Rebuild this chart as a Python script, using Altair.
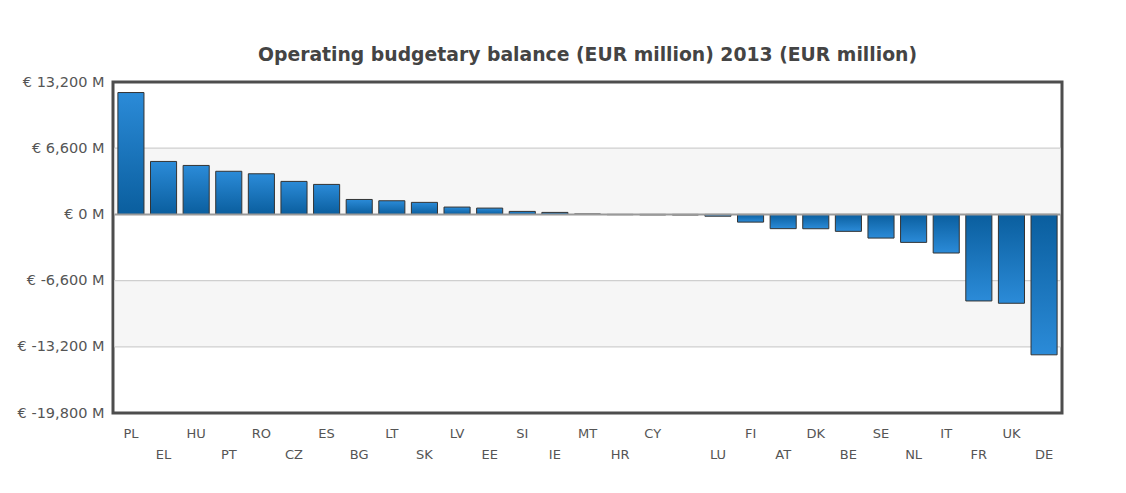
import json
import altair as alt
import pandas as pd

title = "Operating budgetary balance (EUR million) 2013 (EUR million)"

countries = ["PL", "EL", "HU", "PT", "RO", "CZ", "ES", "BG", "LT", "SK",
             "LV", "EE", "SI", "IE", "MT", "HR", "CY", " ", "LU", "FI",
             "AT", "DK", "BE", "SE", "NL", "IT", "FR", "UK", "DE"]
values = [12150, 5280, 4880, 4300, 4050, 3290, 2990, 1490, 1360, 1200,
          730, 630, 300, 200, 40, -30, -50, -60, -180, -770,
          -1420, -1430, -1690, -2360, -2790, -3850, -8630, -8860, -14000]

y_ticks = [-19800, -13200, -6600, 0, 6600, 13200]
band_lo = [0, -13200]
band_hi = [6600, -6600]
grid_vals = [6600, -6600, -13200]

W, H = 949, 331
INSET = 1.5

df = pd.DataFrame({"country": countries, "value": values})
bands = pd.DataFrame({"lo": band_lo, "hi": band_hi})
grid = pd.DataFrame({"v": grid_vals})
zero = pd.DataFrame({"v": [0]})

# staggered labels: alternate rows among non-empty labels
bottom = []
rank = 0
for c in countries:
    if c.strip():
        if rank % 2 == 1:
            bottom.append(c)
        rank += 1
label_expr = ("indexof(" + json.dumps(bottom).replace('"', "'") +
              ", datum.value) >= 0 ? ['', datum.value] : datum.value")

FONT = "DejaVu Sans"
LABEL_COLOR = "#555555"

yscale = alt.Scale(domain=[-19800, 13200], nice=False, zero=False)
xscale = alt.Scale(paddingInner=0.2, paddingOuter=0.15)

x_enc = alt.X("country:N", sort=countries, scale=xscale, title=None,
              axis=alt.Axis(labelAngle=0, labelExpr=label_expr, ticks=False,
                            domain=False, labelPadding=14, labelLineHeight=21,
                            labelFont=FONT, labelFontSize=13, labelColor=LABEL_COLOR,
                            labelBaseline="top"))
y_axis = alt.Axis(values=y_ticks, grid=False, ticks=False, domain=False,
                  labelPadding=9, labelFont=FONT, labelFontSize=14.5,
                  labelColor=LABEL_COLOR,
                  labelExpr="'€ ' + (datum.value < 0 ? '-' : '') + format(abs(datum.value), ',') + ' M'")

band_layer = alt.Chart(bands).mark_rect(color="#f6f6f6").encode(
    y=alt.Y("lo:Q", scale=yscale, axis=y_axis, title=None),
    y2="hi:Q",
    x=alt.value(INSET), x2=alt.value(W - INSET),
)

grid_layer = alt.Chart(grid).mark_rule(color="#cfcfcf", strokeWidth=1.2).encode(
    y=alt.Y("v:Q", scale=yscale),
    x=alt.value(INSET), x2=alt.value(W - INSET),
)

pos_grad = alt.LinearGradient(
    gradient="linear", x1=0, x2=0, y1=0, y2=1,
    stops=[alt.GradientStop(color="#2b8bd8", offset=0),
           alt.GradientStop(color="#0a5e9e", offset=1)])
neg_grad = alt.LinearGradient(
    gradient="linear", x1=0, x2=0, y1=0, y2=1,
    stops=[alt.GradientStop(color="#0a5e9e", offset=0),
           alt.GradientStop(color="#2b8bd8", offset=1)])

pos_bars = alt.Chart(df).transform_filter("datum.value >= 0").mark_bar(
    color=pos_grad, stroke="#333333", strokeWidth=1).encode(
    x=x_enc,
    y=alt.Y("value:Q", scale=yscale),
)
neg_bars = alt.Chart(df).transform_filter("datum.value < 0").mark_bar(
    color=neg_grad, stroke="#333333", strokeWidth=1).encode(
    x=x_enc,
    y=alt.Y("value:Q", scale=yscale),
)

zero_layer = alt.Chart(zero).mark_rule(color="#9a9a9a", strokeWidth=2).encode(
    y=alt.Y("v:Q", scale=yscale),
    x=alt.value(INSET), x2=alt.value(W - INSET),
)

chart = alt.layer(band_layer, grid_layer, pos_bars, neg_bars, zero_layer).properties(
    width=W,
    height=H,
    autosize=alt.AutoSizeParams(type="none"),
    padding={"left": 105, "top": 74, "right": 50, "bottom": 60},
    view=alt.ViewBackground(stroke="#4d4d4d", strokeWidth=3),
    title=alt.Title(title, font=FONT, fontSize=18.8, fontWeight="bold",
                    color="#444444", anchor="middle", offset=9),
).configure_view(
    stroke="#4d4d4d", strokeWidth=3
).configure(background="white")

chart.save("out.html", embed_options={"renderer": "svg", "actions": False})
